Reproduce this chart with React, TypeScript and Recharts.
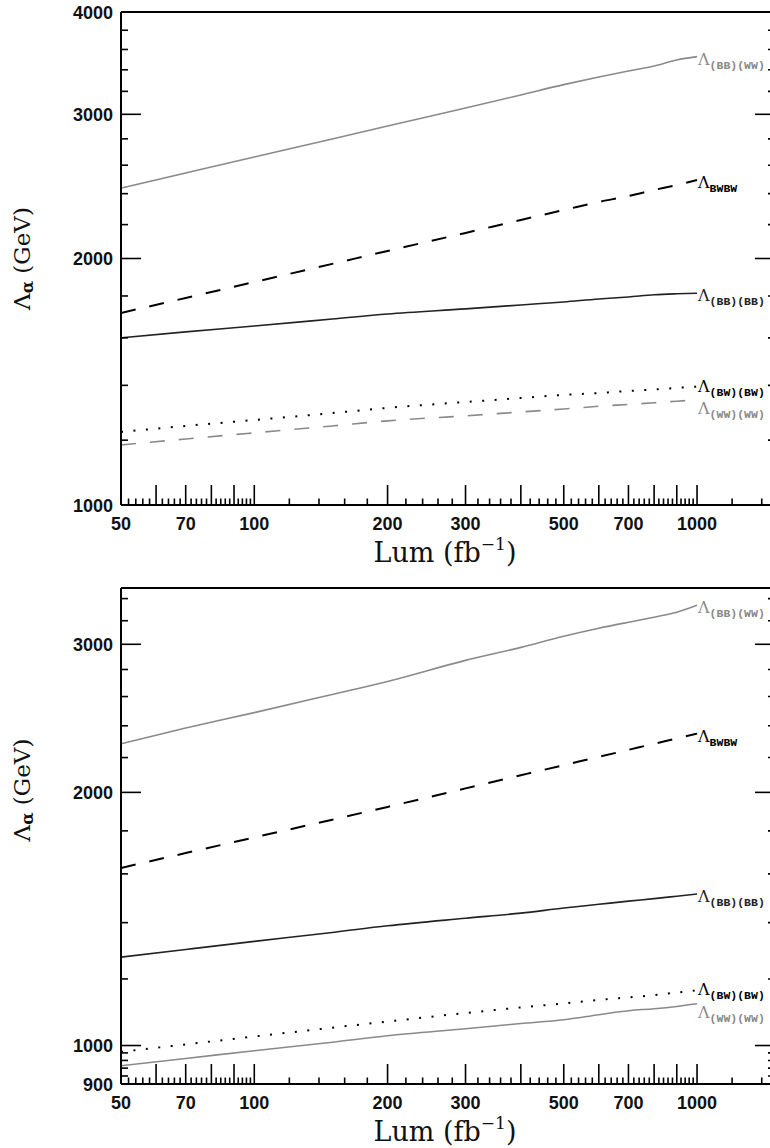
import React from "react";
import { LineChart, Line, XAxis, YAxis, LabelList } from "recharts";

// luminosity (fb^-1) sample points
const lum = [50, 70, 100, 150, 200, 300, 400, 500, 600, 700, 800, 900, 1000];

// upper panel, Lambda (GeV)
const upBBWW = [2438, 2544, 2661, 2799, 2903, 3054, 3168, 3261, 3332, 3389, 3437, 3495, 3528];
const upBWBW = [1716, 1790, 1872, 1970, 2043, 2149, 2229, 2292, 2345, 2384, 2425, 2459, 2494];
const upBBBB = [1600, 1627, 1654, 1687, 1711, 1736, 1755, 1770, 1785, 1795, 1806, 1811, 1814];
const upBWpBW = [1228, 1249, 1270, 1295, 1314, 1336, 1351, 1363, 1370, 1378, 1384, 1390, 1395];
const upWWWW = [1184, 1204, 1225, 1249, 1267, 1285, 1299, 1310, 1320, 1327, 1333, 1339, 1344];

// lower panel
const loBBWW = [2285, 2385, 2488, 2615, 2710, 2871, 2975, 3067, 3135, 3187, 3231, 3276, 3339];
const loBWBW = [1626, 1694, 1768, 1856, 1922, 2022, 2096, 2155, 2204, 2247, 2285, 2318, 2349];
const loBBBB = [1274, 1301, 1330, 1363, 1388, 1417, 1437, 1457, 1472, 1485, 1495, 1505, 1514];
const loBWpBW = [983, 1003, 1025, 1050, 1068, 1093, 1110, 1122, 1133, 1141, 1148, 1156, 1163];
const loWWWW = [946, 965, 986, 1009, 1027, 1047, 1062, 1073, 1088, 1100, 1106, 1113, 1121];

// axis ticks
const xLabels = [50, 70, 100, 200, 300, 500, 700, 1000];
const xMajor = [60, 70, 80, 90, 100, 200, 300, 400, 500, 600, 700, 800, 900, 1000];
const xMinor: number[] = [50];
for (let v = 52; v < 100; v += 2) if (v % 10 !== 0) xMinor.push(v);
for (let v = 120; v < 1000; v += 20) if (v % 100 !== 0) xMinor.push(v);
xMinor.push(1200, 1400);
const xTicks = [...xMinor, ...xMajor].sort((a, b) => a - b);

const upYLabels = [1000, 2000, 3000, 4000];
const upYMinor = [1200, 1400, 1600, 1800, 2200, 2400, 2600, 2800, 3200, 3400, 3600, 3800];
const loYLabels = [900, 1000, 2000, 3000];
const loYMinor = [920, 940, 960, 980, 1200, 1400, 1600, 1800, 2200, 2400, 2600, 2800, 3200, 3400];

const GRAY = "#8a8a8a";
const TICK_FONT = "'Liberation Sans', Arial, sans-serif";
const SERIF = "'DejaVu Serif', serif";

const makeRows = (a: number[], b: number[], c: number[], d: number[], e: number[]) =>
  lum.map((l, i) => ({ lum: l, bbww: a[i], bwbw: b[i], bbbb: c[i], bwpbw: d[i], wwww: e[i] }));

const upRows = makeRows(upBBWW, upBWBW, upBBBB, upBWpBW, upWWWW);
const loRows = makeRows(loBBWW, loBWBW, loBBBB, loBWpBW, loWWWW);

const XTick = (props: any) => {
  const { x, y, payload, side } = props;
  const v = payload.value;
  const len = xMajor.includes(v) ? 20 : 6.5;
  const dir = side === "top" ? 1 : -1;
  return (
    <g>
      <line x1={x} x2={x} y1={y} y2={y + dir * len} stroke="#000" strokeWidth={1.6} />
      {side === "bottom" && xLabels.includes(v) && (
        <text x={x} y={y + 25} textAnchor="middle" fontFamily={TICK_FONT} fontWeight={700} fontSize={18} fill="#111">
          {v}
        </text>
      )}
    </g>
  );
};

const YTick = (props: any) => {
  const { x, y, payload, side, labels } = props;
  const v = payload.value;
  const len = labels.includes(v) ? 20 : 7;
  const dir = side === "left" ? 1 : -1;
  return (
    <g>
      <line x1={x} x2={x + dir * len} y1={y} y2={y} stroke="#000" strokeWidth={1.6} />
      {side === "left" && labels.includes(v) && (
        <text x={x - 8} y={y + 6.5} textAnchor="end" fontFamily={TICK_FONT} fontWeight={700} fontSize={18} fill="#111">
          {v}
        </text>
      )}
    </g>
  );
};

const endLabel = (sub: string, color: string, dy: number) => (p: any) => {
  if (p.index !== lum.length - 1) return null;
  const x = p.x ?? p.viewBox?.x;
  const y = p.y ?? p.viewBox?.y;
  return (
    <text x={x + 1} y={y + dy} fill={color} fontFamily={SERIF} fontSize={16}>
      Λ
      <tspan dy={4} fontFamily="'Liberation Mono', monospace" fontWeight={700} fontSize={11.5}>
        {sub}
      </tspan>
    </text>
  );
};

function Panel({ rows, yDomain, yLabels, yMinor, height, plotH, titleShift, wwDash }: any) {
  const yTicks = [...yMinor, ...yLabels].sort((a: number, b: number) => a - b);
  const frame = { stroke: "#000", strokeWidth: 2 };
  return (
    <LineChart width={780} height={height} data={rows} margin={{ top: 0, right: 0, bottom: 0, left: 0 }}>
      <XAxis
        dataKey="lum" type="number" scale="log" domain={[50, 1500]} allowDataOverflow
        ticks={xTicks} interval={0} height={height - 12 - plotH}
        tickLine={false} tickSize={0} tickMargin={0} axisLine={frame}
        tick={(p: any) => <XTick {...p} side="bottom" />}
        label={{
          content: (p: any) => {
            const vb = p.viewBox || { x: 121, y: 12 + plotH, width: 654 };
            return (
              <text x={vb.x + vb.width / 2 - 3} y={vb.y + 57} textAnchor="middle" fontFamily={SERIF} fontSize={27} fill="#111">
                Lum (fb<tspan dy={-12} fontSize={17}>−1</tspan><tspan dy={12}>)</tspan>
              </text>
            );
          },
        }}
      />
      <XAxis
        xAxisId="top" orientation="top" type="number" scale="log" domain={[50, 1500]} allowDataOverflow
        ticks={xTicks} interval={0} height={12} tickLine={false} tickSize={0} tickMargin={0} axisLine={frame}
        tick={(p: any) => <XTick {...p} side="top" />}
      />
      <YAxis
        type="number" scale="log" domain={yDomain} allowDataOverflow ticks={yTicks} interval={0} width={121}
        tickLine={false} tickSize={0} tickMargin={0} axisLine={frame}
        tick={(p: any) => <YTick {...p} side="left" labels={yLabels} />}
        label={{
          content: (p: any) => {
            const vb = p.viewBox || { y: 12, height: plotH };
            const cx = 22;
            const cy = vb.y + vb.height / 2 + titleShift;
            return (
              <text x={cx} y={cy} transform={`rotate(-90 ${cx} ${cy})`} textAnchor="middle" dominantBaseline="central" fontFamily={SERIF} fontSize={23} fill="#111">
                Λ<tspan dy={5} fontSize={16} fontWeight={700}>α</tspan><tspan dy={-5}> (GeV)</tspan>
              </text>
            );
          },
        }}
      />
      <YAxis
        yAxisId="right" orientation="right" type="number" scale="log" domain={yDomain} allowDataOverflow
        ticks={yTicks} interval={0} width={5} tickLine={false} tickSize={0} tickMargin={0} axisLine={frame}
        tick={(p: any) => <YTick {...p} side="right" labels={yLabels} />}
      />
      <Line dataKey="bbww" type="monotone" stroke={GRAY} strokeWidth={1.6} dot={false} isAnimationActive={false}>
        <LabelList dataKey="bbww" content={endLabel("(BB)(WW)", GRAY, 8)} />
      </Line>
      <Line dataKey="bwbw" type="monotone" stroke="#000" strokeWidth={2} strokeDasharray="15 14" dot={false} isAnimationActive={false}>
        <LabelList dataKey="bwbw" content={endLabel("BWBW", "#000", 8)} />
      </Line>
      <Line dataKey="bbbb" type="monotone" stroke="#222" strokeWidth={1.6} dot={false} isAnimationActive={false}>
        <LabelList dataKey="bbbb" content={endLabel("(BB)(BB)", "#222", 8)} />
      </Line>
      <Line dataKey="bwpbw" type="monotone" stroke="#000" strokeWidth={2} strokeDasharray="2 10.5" dot={false} isAnimationActive={false}>
        <LabelList dataKey="bwpbw" content={endLabel("(BW)(BW)", "#000", 5)} />
      </Line>
      <Line dataKey="wwww" type="monotone" stroke={GRAY} strokeWidth={1.6} strokeDasharray={wwDash} dot={false} isAnimationActive={false}>
        <LabelList dataKey="wwww" content={endLabel("(WW)(WW)", GRAY, 14)} />
      </Line>
    </LineChart>
  );
}

export default function App() {
  return (
    <div style={{ position: "absolute", left: 0, top: 0, width: 770, height: 1148, overflow: "hidden", background: "#fff" }}>
      <div style={{ position: "absolute", left: 0, top: 0 }}>
        <Panel rows={upRows} yDomain={[1000, 4000]} yLabels={upYLabels} yMinor={upYMinor} height={576} plotH={493} titleShift={0} wwDash="15 14" />
      </div>
      <div style={{ position: "absolute", left: 0, top: 576 }}>
        <Panel rows={loRows} yDomain={[900, 3500]} yLabels={loYLabels} yMinor={loYMinor} height={572} plotH={496} titleShift={-46} />
      </div>
    </div>
  );
}
